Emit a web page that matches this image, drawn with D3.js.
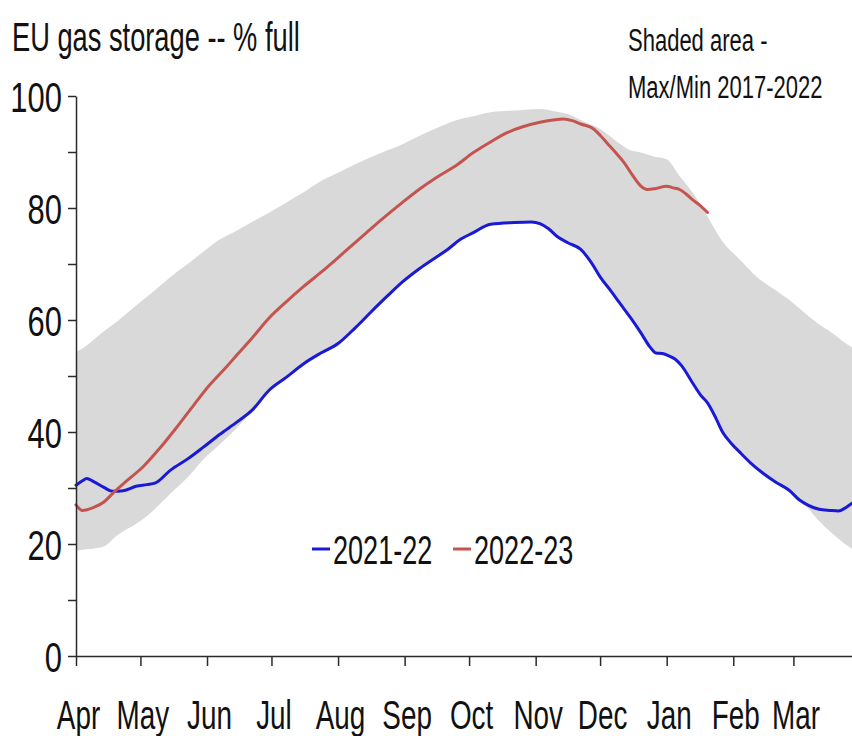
<!DOCTYPE html>
<html><head><meta charset="utf-8">
<script src="https://cdn.jsdelivr.net/npm/d3@7"></script>
<style>
body{margin:0;background:#fff}
svg{display:block}
text{font-family:"Liberation Sans",Arial,Helvetica,sans-serif;fill:#111}
</style>
</head><body>
<svg id="chart" width="852" height="736"></svg>
<script>
// ---- data (days since 1 April, % full) ----
const monthStarts = [0,30,61,91,122,153,183,214,244,275,306,334];
const monthLabels = ["Apr","May","Jun","Jul","Aug","Sep","Oct","Nov","Dec","Jan","Feb","Mar"];
const yTicks = [0,10,20,30,40,50,60,70,80,90,100];

const bandDays = [0,4,12,20,28,36,44,52,59,67,75,82,90,98,106,114,122,130,137,145,152,160,168,179,185,193,204,216,224,229,235,244,253,257,263,269,275,281,287,294,301,309,317,325,332,337,341,345,352,361,365];
const bandMax  = [54.3,55.2,57.7,60.0,62.6,65.1,67.7,70.0,72.1,74.4,76.0,77.5,79.2,81.0,82.8,84.8,86.3,87.8,89.0,90.3,91.4,92.9,94.3,95.9,96.4,97.1,97.4,97.7,97.2,96.8,95.7,94.1,91.5,90.5,89.9,89.2,88.7,85.7,82.8,78.5,74.0,70.8,67.7,65.5,63.6,62.0,60.7,59.5,57.7,55.2,54.5];
const bandMin  = [18.8,19.0,19.4,21.8,23.6,26.0,29.0,31.9,35.0,37.8,40.8,43.9,47.5,49.8,52.2,54.1,55.8,58.6,61.3,64.3,66.8,69.2,71.3,74.4,75.6,77.1,77.4,77.4,74.9,73.8,72.6,67.7,63.1,61.0,57.7,54.3,53.8,52.5,48.8,45.2,40.0,36.4,33.8,31.2,29.6,27.6,26.3,24.5,21.9,19.2,18.5];

const days2122 = [0,3,5,8,13,17,22,28,33,37,44,52,59,67,75,82,90,98,106,114,122,130,137,145,152,160,168,173,179,185,193,204,212,216,220,224,229,235,240,244,249,253,258,263,267,270,273,276,279,282,287,291,294,298,301,305,309,314,320,326,332,337,341,346,351,355,358,361,365];
const vals2122 = [30.5,31.3,31.7,31.2,30.1,29.4,29.5,30.3,30.6,30.9,33.2,35.2,37.2,39.6,41.8,43.9,47.5,49.8,52.2,54.1,55.8,58.6,61.3,64.3,66.8,69.2,71.3,72.6,74.4,75.6,77.1,77.4,77.5,77.2,76.3,74.9,73.8,72.6,70.2,67.7,65.2,63.1,60.5,57.7,55.3,54.1,54.0,53.6,53.0,51.8,48.8,46.5,45.2,42.4,40.0,38.0,36.4,34.5,32.6,31.0,29.6,27.8,26.9,26.2,26.0,25.9,26.4,27.2,28.0];

const days2223 = [0,3,8,13,17,24,31,39,47,55,62,70,75,82,90,98,106,114,121,129,137,145,152,160,168,177,185,193,201,208,216,222,227,231,235,241,244,247,251,255,259,263,266,270,275,278,281,284,287,291,294];
const vals2223 = [27.0,26.0,26.5,27.5,29.0,31.4,33.7,37.1,40.9,44.9,48.3,51.6,53.8,56.8,60.4,63.3,66.0,68.5,70.8,73.5,76.2,78.8,81.0,83.4,85.5,87.6,89.9,91.8,93.5,94.5,95.3,95.7,95.9,95.6,95.0,94.1,93.0,91.7,90.0,88.2,85.9,83.9,83.3,83.5,83.9,83.6,83.3,82.5,81.5,80.3,79.2];

const seriesNames = ["2021-22","2022-23"];
const seriesColors = ["#1a1ad6","#c4544f"];
const bandColor = "#d9d9d9";
const titleText = "EU gas storage -- % full";
const noteLines = ["Shaded area -","Max/Min 2017-2022"];

// ---- layout ----
const svg = d3.select("#chart");
const x = d3.scaleLinear().domain([0,365]).range([76,860]);
const y = d3.scaleLinear().domain([0,100]).range([656,96]);

// shaded band
const band = bandDays.map((d,i)=>({d, hi:bandMax[i], lo:bandMin[i]}));
svg.append("path").datum(band)
  .attr("fill", bandColor)
  .attr("d", d3.area().x(p=>x(p.d)).y0(p=>y(p.lo)).y1(p=>y(p.hi)).curve(d3.curveMonotoneX));

// lines
const line = d3.line().x(p=>x(p[0])).y(p=>y(p[1])).curve(d3.curveMonotoneX);
const s1 = days2122.map((d,i)=>[d, vals2122[i]]);
const s2 = days2223.map((d,i)=>[d, vals2223[i]]);
[s1,s2].forEach((s,i)=>{
  svg.append("path").datum(s).attr("fill","none")
    .attr("stroke", seriesColors[i]).attr("stroke-width",3)
    .attr("stroke-linejoin","round").attr("stroke-linecap","round")
    .attr("d", line);
});

// axes
const yAxis = d3.axisLeft(y).tickValues(yTicks).tickSize(8).tickSizeOuter(0)
  .tickFormat(d => d % 20 === 0 ? d : "");
const gy = svg.append("g").attr("transform","translate(76,0)").call(yAxis);
gy.attr("font-size",null).attr("font-family",null);
gy.selectAll("path,line").attr("stroke","#2a2a2a").attr("stroke-width",1.5);
gy.selectAll("text").attr("x",0).attr("dy","0.36em")
  .attr("transform","translate(-14,0) scale(0.72,1)")
  .attr("font-size",43).attr("fill","#111");

const xAxis = d3.axisBottom(x).tickValues(monthStarts).tickSize(10).tickSizeOuter(0)
  .tickFormat((d,i)=>monthLabels[i]);
const gx = svg.append("g").attr("transform","translate(0,656)").call(xAxis);
gx.attr("font-size",null).attr("font-family",null);
gx.selectAll("path,line").attr("stroke","#2a2a2a").attr("stroke-width",1.5);
gx.selectAll("text").attr("y",0).attr("dy",0)
  .attr("transform","translate(2,73) scale(0.68,1)")
  .attr("font-size",41).attr("fill","#111");

// text helper
function ctext(xp, yp, str, size, sx){
  return svg.append("text")
    .attr("transform",`translate(${xp},${yp}) scale(${sx},1)`)
    .attr("font-size",size).text(str);
}
ctext(12, 51, titleText, 41, 0.665);
ctext(628, 51, noteLines[0], 31, 0.71);
ctext(628, 98, noteLines[1], 31, 0.71);

// legend
const legX = [312, 453];
seriesNames.forEach((n,i)=>{
  svg.append("line").attr("x1",legX[i]).attr("x2",legX[i]+18)
    .attr("y1",549).attr("y2",549)
    .attr("stroke",seriesColors[i]).attr("stroke-width",3);
  ctext(legX[i]+21, 564, n, 41, 0.66);
});
</script>
</body></html>
